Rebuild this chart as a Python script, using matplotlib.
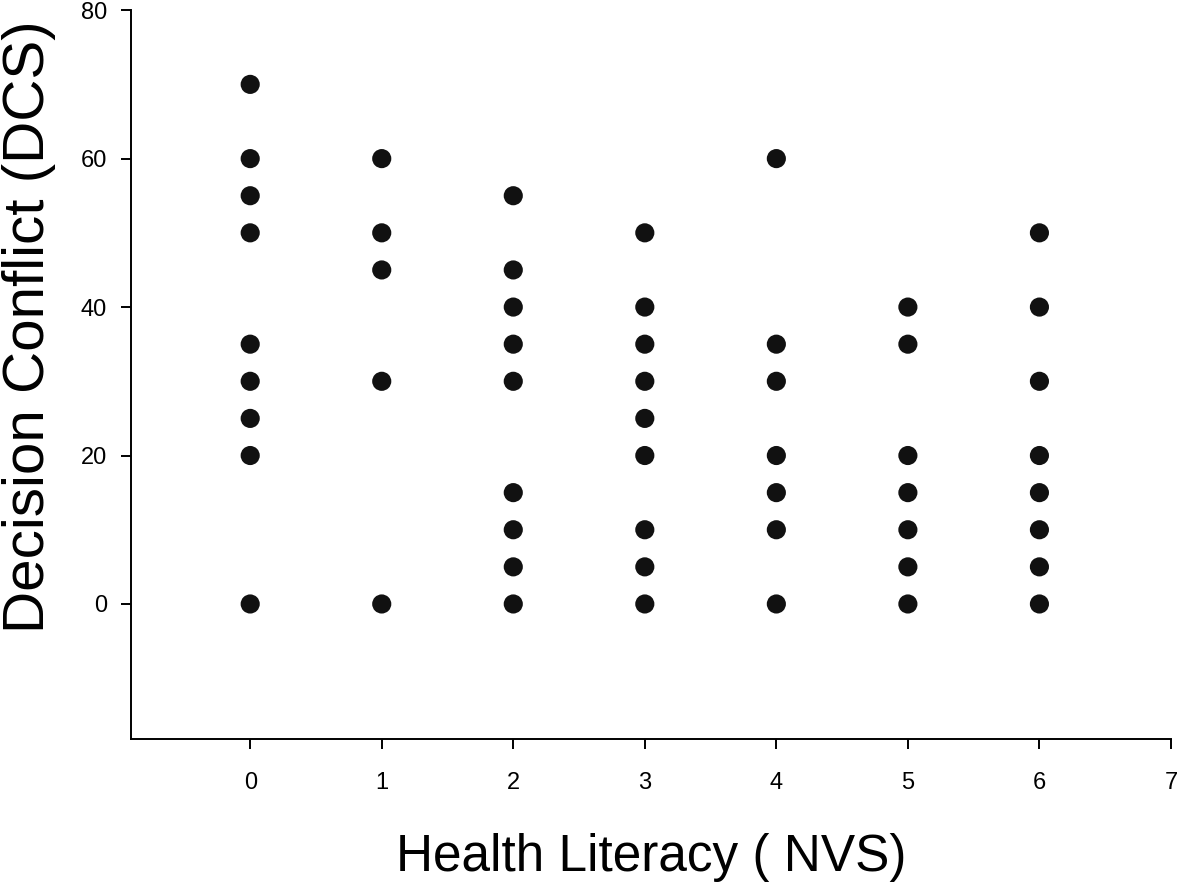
import numpy as np
import matplotlib.pyplot as plt

plt.rcParams['font.family'] = ['Liberation Sans', 'DejaVu Sans']

# Health literacy score (NVS) and decision conflict (DCS)
nvs_0 = [70, 60, 55, 50, 35, 30, 25, 20, 0]
nvs_1 = [60, 50, 45, 30, 0]
nvs_2 = [55, 45, 40, 35, 30, 15, 10, 5, 0]
nvs_3 = [50, 40, 35, 30, 25, 20, 10, 5, 0]
nvs_4 = [60, 35, 30, 20, 15, 10, 0]
nvs_5 = [40, 35, 20, 15, 10, 5, 0]
nvs_6 = [50, 40, 30, 20, 15, 10, 5, 0]

groups = [nvs_0, nvs_1, nvs_2, nvs_3, nvs_4, nvs_5, nvs_6]
x = np.concatenate([[i] * len(g) for i, g in enumerate(groups)])
y = np.concatenate(groups)

fig = plt.figure(figsize=(11.81, 8.83), dpi=100)
ax = fig.add_axes([0.1105, 0.163, 0.881, 0.8255])
ax.scatter(x, y, s=190, color='#111111', edgecolors='none', zorder=3)

ax.set_xlim(-0.91, 7)
ax.set_ylim(-18.2, 80)
ax.set_xticks(range(0, 8))
ax.set_yticks([0, 20, 40, 60, 80])
ax.spines['top'].set_visible(False)
ax.spines['right'].set_visible(False)
for s in ['left', 'bottom']:
    ax.spines[s].set_linewidth(1.4)
ax.tick_params(direction='out', length=7, width=1.4, labelsize=17)
ax.tick_params(axis='x', pad=17)
ax.tick_params(axis='y', pad=10)

ax.set_xlabel('Health Literacy ( NVS)', fontsize=37, va='center')
ax.set_ylabel('Decision Conflict (DCS)', fontsize=42, va='center')
ax.xaxis.set_label_coords(0.5, -0.162)
ax.yaxis.set_label_coords(-0.098, 0.566)

plt.savefig('out.png', dpi=100)
